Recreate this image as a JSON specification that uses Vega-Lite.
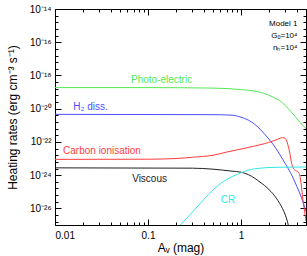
{
  "$schema": "https://vega.github.io/schema/vega-lite/v6.json",
  "autosize": "none",
  "width": 251,
  "height": 216,
  "padding": {"left": 55, "top": 9, "right": 1, "bottom": 31},
  "background": "white",
  "config": {
    "view": {"stroke": null},
    "font": "Liberation Sans",
    "axis": {"domainColor": "black", "tickColor": "black", "labelColor": "black", "titleColor": "black", "grid": false, "labelFont": "Liberation Sans", "titleFont": "Liberation Sans", "titleFontWeight": "normal", "labelFontSize": 10, "titleFontSize": 12, "domainWidth": 1, "tickWidth": 1}
  },
  "datasets": {
    "curves": [
      {"s": "Photo-electric", "av": 0.01, "rate": 1.86e-19},
      {"s": "Photo-electric", "av": 0.1, "rate": 1.86e-19},
      {"s": "Photo-electric", "av": 0.5, "rate": 1.74e-19},
      {"s": "Photo-electric", "av": 1.0, "rate": 1.41e-19},
      {"s": "Photo-electric", "av": 1.4, "rate": 1.15e-19},
      {"s": "Photo-electric", "av": 1.8, "rate": 8.13e-20},
      {"s": "Photo-electric", "av": 2.2, "rate": 5.01e-20},
      {"s": "Photo-electric", "av": 2.6, "rate": 3.1e-20},
      {"s": "Photo-electric", "av": 3.0, "rate": 1.55e-20},
      {"s": "Photo-electric", "av": 3.4, "rate": 7.24e-21},
      {"s": "Photo-electric", "av": 3.8, "rate": 3.55e-21},
      {"s": "Photo-electric", "av": 4.2, "rate": 1.78e-21},
      {"s": "Photo-electric", "av": 4.6, "rate": 1.0e-21},
      {"s": "Photo-electric", "av": 5.0, "rate": 6.3e-22},
      {"s": "H2 diss.", "av": 0.01, "rate": 4.57e-21},
      {"s": "H2 diss.", "av": 0.5, "rate": 4.37e-21},
      {"s": "H2 diss.", "av": 0.8, "rate": 4.07e-21},
      {"s": "H2 diss.", "av": 1.0, "rate": 3.09e-21},
      {"s": "H2 diss.", "av": 1.2, "rate": 2.04e-21},
      {"s": "H2 diss.", "av": 1.4, "rate": 1.17e-21},
      {"s": "H2 diss.", "av": 1.6, "rate": 5.89e-22},
      {"s": "H2 diss.", "av": 1.8, "rate": 2.88e-22},
      {"s": "H2 diss.", "av": 2.0, "rate": 1.48e-22},
      {"s": "H2 diss.", "av": 2.4, "rate": 3.72e-23},
      {"s": "H2 diss.", "av": 2.8, "rate": 9.12e-24},
      {"s": "H2 diss.", "av": 3.2, "rate": 2.63e-24},
      {"s": "H2 diss.", "av": 3.6, "rate": 7.59e-25},
      {"s": "H2 diss.", "av": 4.0, "rate": 2.0e-25},
      {"s": "H2 diss.", "av": 4.4, "rate": 5.6e-26},
      {"s": "H2 diss.", "av": 4.8, "rate": 1.35e-26},
      {"s": "H2 diss.", "av": 5.0, "rate": 6.3e-27},
      {"s": "Carbon ionisation", "av": 0.01, "rate": 8.91e-24},
      {"s": "Carbon ionisation", "av": 0.1, "rate": 9.12e-24},
      {"s": "Carbon ionisation", "av": 0.2, "rate": 1.0e-23},
      {"s": "Carbon ionisation", "av": 0.3, "rate": 1.2e-23},
      {"s": "Carbon ionisation", "av": 0.5, "rate": 1.58e-23},
      {"s": "Carbon ionisation", "av": 0.7, "rate": 2.45e-23},
      {"s": "Carbon ionisation", "av": 1.0, "rate": 3.72e-23},
      {"s": "Carbon ionisation", "av": 1.4, "rate": 5.62e-23},
      {"s": "Carbon ionisation", "av": 1.8, "rate": 7.94e-23},
      {"s": "Carbon ionisation", "av": 2.2, "rate": 1.12e-22},
      {"s": "Carbon ionisation", "av": 2.5, "rate": 1.48e-22},
      {"s": "Carbon ionisation", "av": 2.8, "rate": 1.82e-22},
      {"s": "Carbon ionisation", "av": 3.0, "rate": 1.58e-22},
      {"s": "Carbon ionisation", "av": 3.2, "rate": 6.46e-23},
      {"s": "Carbon ionisation", "av": 3.35, "rate": 2.14e-23},
      {"s": "Carbon ionisation", "av": 3.5, "rate": 5.25e-24},
      {"s": "Carbon ionisation", "av": 3.65, "rate": 2.63e-24},
      {"s": "Carbon ionisation", "av": 3.9, "rate": 1.86e-24},
      {"s": "Carbon ionisation", "av": 4.15, "rate": 1.51e-24},
      {"s": "Carbon ionisation", "av": 4.3, "rate": 8.71e-25},
      {"s": "Carbon ionisation", "av": 4.45, "rate": 2.51e-25},
      {"s": "Carbon ionisation", "av": 4.6, "rate": 4.68e-26},
      {"s": "Carbon ionisation", "av": 4.75, "rate": 1.17e-26},
      {"s": "Carbon ionisation", "av": 4.9, "rate": 3.89e-27},
      {"s": "Carbon ionisation", "av": 5.0, "rate": 1.7e-27},
      {"s": "Viscous", "av": 0.01, "rate": 2.75e-24},
      {"s": "Viscous", "av": 0.3, "rate": 2.63e-24},
      {"s": "Viscous", "av": 0.5, "rate": 2.29e-24},
      {"s": "Viscous", "av": 0.8, "rate": 1.74e-24},
      {"s": "Viscous", "av": 1.0, "rate": 1.51e-24},
      {"s": "Viscous", "av": 1.2, "rate": 1.07e-24},
      {"s": "Viscous", "av": 1.4, "rate": 6.61e-25},
      {"s": "Viscous", "av": 1.6, "rate": 3.8e-25},
      {"s": "Viscous", "av": 1.8, "rate": 2.34e-25},
      {"s": "Viscous", "av": 2.0, "rate": 1.35e-25},
      {"s": "Viscous", "av": 2.2, "rate": 7.76e-26},
      {"s": "Viscous", "av": 2.4, "rate": 4.07e-26},
      {"s": "Viscous", "av": 2.6, "rate": 2.04e-26},
      {"s": "Viscous", "av": 2.8, "rate": 9.55e-27},
      {"s": "Viscous", "av": 3.0, "rate": 3.89e-27},
      {"s": "Viscous", "av": 3.15, "rate": 1.7e-27},
      {"s": "Viscous", "av": 3.3, "rate": 5.6e-28},
      {"s": "CR", "av": 0.2, "rate": 5.2e-28},
      {"s": "CR", "av": 0.3, "rate": 6.0e-27},
      {"s": "CR", "av": 0.4, "rate": 3.5e-26},
      {"s": "CR", "av": 0.5, "rate": 1.29e-25},
      {"s": "CR", "av": 0.6, "rate": 3.09e-25},
      {"s": "CR", "av": 0.7, "rate": 5.37e-25},
      {"s": "CR", "av": 0.8, "rate": 8.13e-25},
      {"s": "CR", "av": 1.0, "rate": 1.38e-24},
      {"s": "CR", "av": 1.2, "rate": 2.0e-24},
      {"s": "CR", "av": 1.4, "rate": 2.4e-24},
      {"s": "CR", "av": 1.6, "rate": 2.63e-24},
      {"s": "CR", "av": 2.0, "rate": 2.88e-24},
      {"s": "CR", "av": 3.0, "rate": 3.02e-24},
      {"s": "CR", "av": 5.0, "rate": 3.09e-24}
    ],
    "labels": [
      {"s": "Photo-electric", "text": "Photo-electric", "av": 0.14, "rate": 5.2e-19},
      {"s": "H2 diss.", "text": "H₂ diss.", "av": 0.0241, "rate": 1.26e-20},
      {"s": "Carbon ionisation", "text": "Carbon ionisation", "av": 0.032, "rate": 2.8e-23},
      {"s": "Viscous", "text": "Viscous", "av": 0.104, "rate": 5.7e-25},
      {"s": "CR", "text": "CR", "av": 0.724, "rate": 3.1e-26}
    ],
    "model": [
      {"text": "Model  1", "av": 4.05, "rate": 1.25e-15},
      {"text": "Gₒ=10⁴", "av": 4.05, "rate": 2.36e-16},
      {"text": "nₕ=10⁴", "av": 4.05, "rate": 4.47e-17}
    ]
  },
  "layer": [
    {
      "data": {"name": "curves"},
      "mark": {"type": "line", "strokeWidth": 1, "clip": true, "interpolate": "monotone"},
      "encoding": {
        "x": {"field": "av", "type": "quantitative",
          "scale": {"type": "log", "domain": [0.01, 5], "nice": false},
          "axis": {"orient": "bottom", "values": [0.01, 0.1, 1], "tickSize": -6, "labelPadding": 11,
            "labelExpr": "datum.value < 0.05 ? '0.01' : datum.value < 0.5 ? '0.1' : '1'",
            "title": "Aᵥ (mag)", "titlePadding": 2}},
        "y": {"field": "rate", "type": "quantitative",
          "scale": {"type": "log", "domain": [1e-27, 1e-14], "nice": false},
          "axis": {"orient": "left", "values": [1e-14, 1e-16, 1e-18, 1e-20, 1e-22, 1e-24, 1e-26], "tickSize": -6, "labelPadding": 10,
            "labelExpr": "'10⁻' + substring('⁰¹²³⁴⁵⁶⁷⁸⁹', floor(-round(log(datum.value)/LN10)/10), floor(-round(log(datum.value)/LN10)/10)+1) + substring('⁰¹²³⁴⁵⁶⁷⁸⁹', (-round(log(datum.value)/LN10))%10, (-round(log(datum.value)/LN10))%10+1)",
            "title": "Heating rates (erg cm⁻³ s⁻¹)", "titlePadding": 10}},
        "color": {"field": "s", "type": "nominal", "legend": null,
          "scale": {"domain": ["Photo-electric", "H2 diss.", "Carbon ionisation", "Viscous", "CR"],
                    "range": ["#55e855", "#4d4dff", "#ff3b3b", "#222222", "#33e8e8"]}}
      }
    },
    {
      "data": {"name": "labels"},
      "mark": {"type": "text", "align": "center", "baseline": "middle", "fontSize": 10, "font": "Liberation Sans"},
      "encoding": {
        "x": {"field": "av", "type": "quantitative",
          "axis": {"orient": "bottom", "values": [0.02, 0.03, 0.04, 0.05, 0.06, 0.07, 0.08, 0.09, 0.2, 0.3, 0.4, 0.5, 0.6, 0.7, 0.8, 0.9, 2, 3, 4, 5], "tickSize": -3, "labels": false, "domain": false, "title": null}},
        "y": {"field": "rate", "type": "quantitative",
          "axis": {"orient": "left", "values": [3.98e-15, 1.585e-15, 6.31e-16, 2.51e-16, 3.98e-17, 1.585e-17, 6.31e-18, 2.51e-18, 3.98e-19, 1.585e-19, 6.31e-20, 2.51e-20, 3.98e-21, 1.585e-21, 6.31e-22, 2.51e-22, 3.98e-23, 1.585e-23, 6.31e-24, 2.51e-24, 3.98e-25, 1.585e-25, 6.31e-26, 2.51e-26, 3.98e-27, 1.585e-27], "tickSize": -3, "labels": false, "domain": false, "title": null}},
        "text": {"field": "text"},
        "color": {"field": "s", "type": "nominal", "legend": null}
      }
    },
    {
      "data": {"name": "model"},
      "mark": {"type": "text", "align": "right", "baseline": "middle", "fontSize": 8, "font": "Liberation Sans", "color": "black"},
      "encoding": {
        "x": {"field": "av", "type": "quantitative",
          "axis": {"orient": "top", "values": [0.01, 0.1, 1], "tickSize": -6, "labels": false, "title": null}},
        "y": {"field": "rate", "type": "quantitative",
          "axis": {"orient": "right", "values": [1e-14, 1e-16, 1e-18, 1e-20, 1e-22, 1e-24, 1e-26], "tickSize": -6, "labels": false, "title": null}},
        "text": {"field": "text"}
      }
    },
    {
      "data": {"name": "model"},
      "mark": {"type": "point", "opacity": 0},
      "encoding": {
        "x": {"field": "av", "type": "quantitative",
          "axis": {"orient": "top", "values": [0.02, 0.03, 0.04, 0.05, 0.06, 0.07, 0.08, 0.09, 0.2, 0.3, 0.4, 0.5, 0.6, 0.7, 0.8, 0.9, 2, 3, 4, 5], "tickSize": -3, "labels": false, "domain": false, "title": null}},
        "y": {"field": "rate", "type": "quantitative",
          "axis": {"orient": "right", "values": [3.98e-15, 1.585e-15, 6.31e-16, 2.51e-16, 3.98e-17, 1.585e-17, 6.31e-18, 2.51e-18, 3.98e-19, 1.585e-19, 6.31e-20, 2.51e-20, 3.98e-21, 1.585e-21, 6.31e-22, 2.51e-22, 3.98e-23, 1.585e-23, 6.31e-24, 2.51e-24, 3.98e-25, 1.585e-25, 6.31e-26, 2.51e-26, 3.98e-27, 1.585e-27], "tickSize": -3, "labels": false, "domain": false, "title": null}}
      }
    }
  ],
  "resolve": {"axis": {"x": "independent", "y": "independent"}}
}
